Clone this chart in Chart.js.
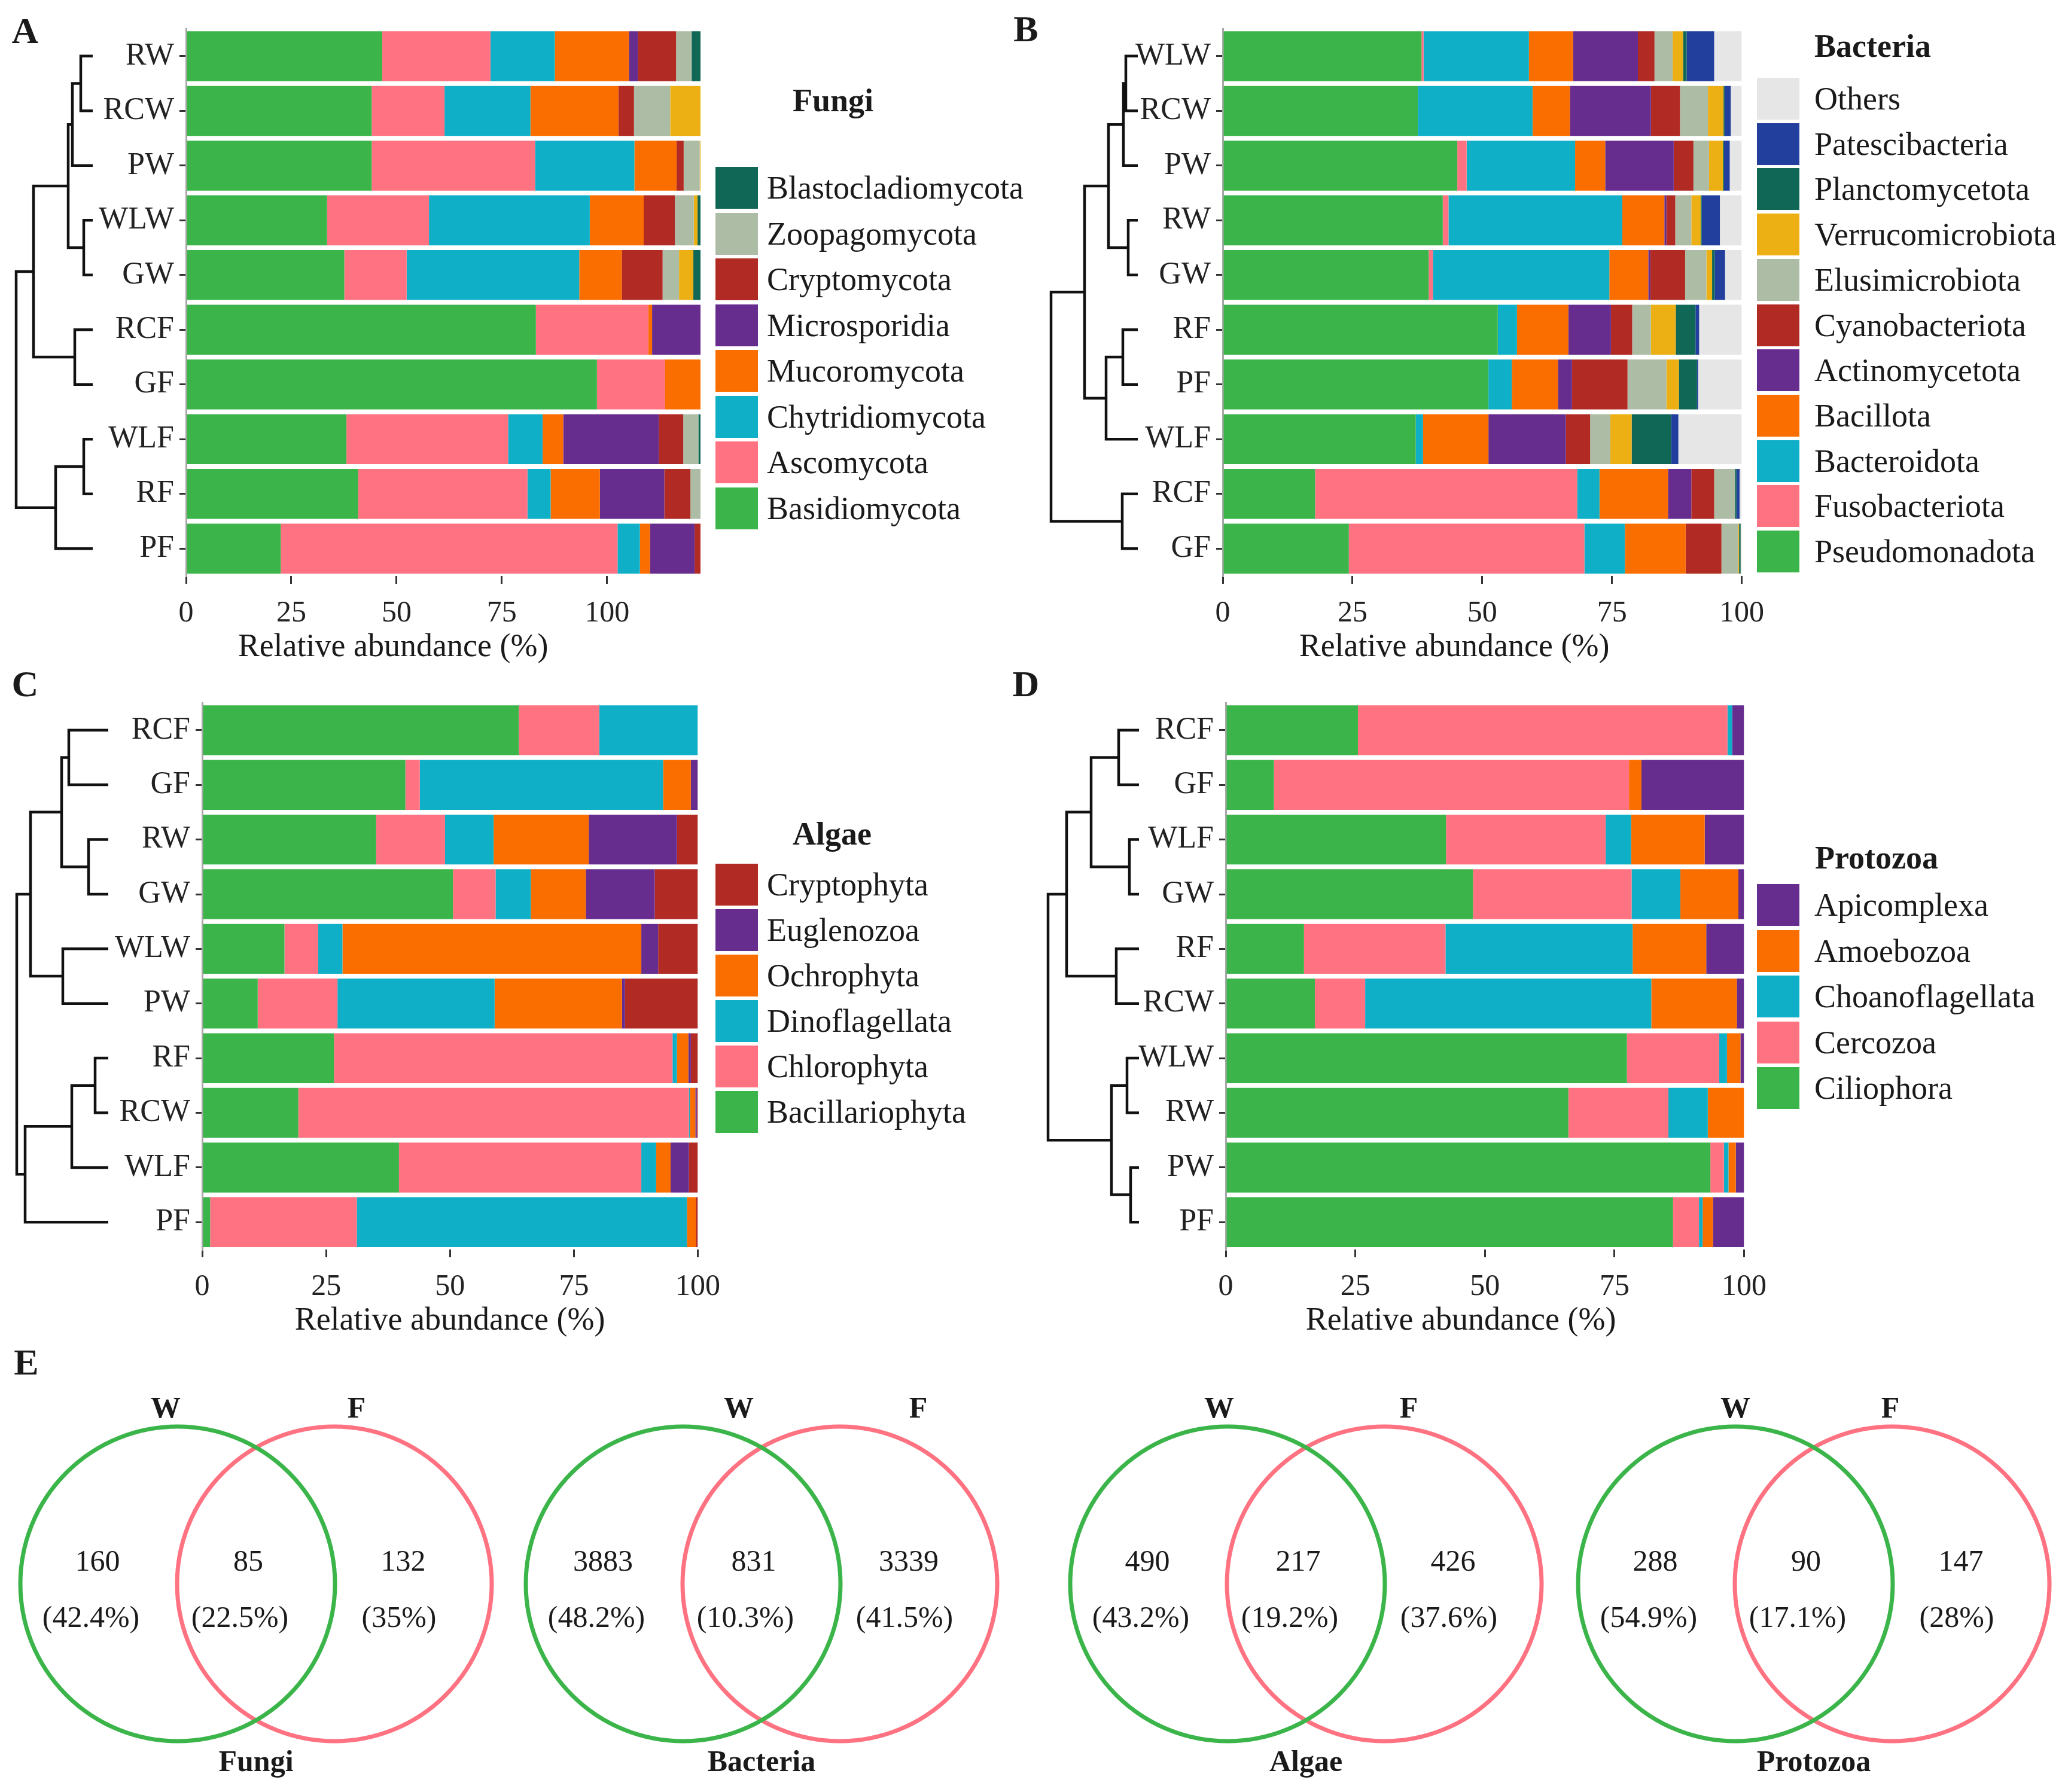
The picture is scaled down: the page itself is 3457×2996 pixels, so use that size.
<!DOCTYPE html>
<html>
<head>
<meta charset="utf-8">
<script src="https://cdn.jsdelivr.net/npm/chart.js@4.4.1/dist/chart.umd.min.js"></script>
<style>
  body { margin: 0; background: #fff; }
  #page { position: relative; width: 3457px; height: 2996px; overflow: hidden;
          font-family: "Liberation Serif", "Times New Roman", serif; color: #1a1a1a; }
  #page canvas { position: absolute; }
  .txt { position: absolute; line-height: 1; white-space: nowrap; }
</style>
</head>
<body>
<div id="page"></div>
<script>
// ---------- data ----------
const fungiCats = ["RW", "RCW", "PW", "WLW", "GW", "RCF", "GF", "WLF", "RF", "PF"];
const fungiNames = ["Basidiomycota", "Ascomycota", "Chytridiomycota", "Mucoromycota",
  "Microsporidia", "Cryptomycota", "Zoopagomycota", "", "Blastocladiomycota"];
const fungiBasidio = [46.6, 44.1, 44.1, 33.5, 37.6, 83.1, 97.6, 38.1, 40.9, 22.5];
const fungiAsco = [25.7, 17.3, 38.8, 24.2, 14.8, 26.7, 16.2, 38.4, 40.2, 80.0];
const fungiChytrid = [15.3, 20.4, 23.6, 38.2, 41.0, 0, 0, 8.2, 5.5, 5.3];
const fungiMucoro = [17.6, 20.9, 10.0, 12.8, 10.1, 0.9, 8.4, 4.9, 11.7, 2.4];
const fungiMicro = [2.1, 0, 0, 0, 0, 11.5, 0, 22.7, 15.3, 10.6];
const fungiCrypto = [9.1, 3.7, 1.7, 7.4, 9.7, 0, 0, 5.8, 6.2, 1.4];
const fungiZoopago = [3.7, 8.6, 3.8, 4.5, 3.9, 0, 0, 3.6, 2.4, 0];
const fungiUnnamed = [0, 7.2, 0.2, 0.9, 3.4, 0, 0, 0, 0, 0];
const fungiBlasto = [2.1, 0, 0, 0.7, 1.7, 0, 0, 0.5, 0, 0];

const bactCats = ["WLW", "RCW", "PW", "RW", "GW", "RF", "PF", "WLF", "RCF", "GF"];
const bactNames = ["Pseudomonadota", "Fusobacteriota", "Bacteroidota", "Bacillota",
  "Actinomycetota", "Cyanobacteriota", "Elusimicrobiota", "Verrucomicrobiota",
  "Planctomycetota", "Patescibacteria", "Others"];
const bactPseudo = [38.3, 37.6, 45.2, 42.4, 39.7, 53.0, 51.2, 37.2, 17.8, 24.3];
const bactFuso = [0.4, 0, 1.8, 1.1, 0.8, 0, 0, 0, 50.5, 45.4];
const bactBactero = [20.3, 22.1, 20.9, 33.5, 34.0, 3.7, 4.5, 1.4, 4.3, 7.8];
const bactBacillota = [8.5, 7.2, 5.8, 8.1, 7.5, 9.9, 8.9, 12.6, 13.2, 11.7];
const bactActino = [12.5, 15.6, 13.2, 0.4, 0.4, 8.2, 2.7, 14.9, 4.5, 0];
const bactCyano = [3.2, 5.6, 3.8, 1.7, 6.7, 4.1, 10.7, 4.7, 4.4, 6.9];
const bactElusi = [3.5, 5.4, 3.0, 3.1, 4.1, 3.6, 7.5, 3.9, 4.0, 3.2];
const bactVerruco = [2.0, 3.0, 2.7, 1.8, 1.1, 4.8, 2.4, 4.1, 0, 0.2];
const bactPlancto = [0.7, 0.2, 0.2, 0.2, 0.5, 3.8, 3.5, 7.6, 0.3, 0.3];
const bactPatesci = [5.3, 1.2, 1.1, 3.5, 2.0, 0.7, 0.2, 1.4, 0.6, 0];
const bactOthers = [5.3, 2.1, 2.3, 4.2, 3.2, 8.2, 8.4, 12.2, 0.4, 0.2];

const algaeCats = ["RCF", "GF", "RW", "GW", "WLW", "PW", "RF", "RCW", "WLF", "PF"];
const algaeNames = ["Bacillariophyta", "Chlorophyta", "Dinoflagellata", "Ochrophyta",
  "Euglenozoa", "Cryptophyta"];
const algaeBacill = [63.9, 41.0, 35.1, 50.6, 16.6, 11.2, 26.6, 19.4, 39.7, 1.6];
const algaeChloro = [16.2, 2.9, 13.9, 8.6, 6.8, 16.1, 68.3, 78.8, 48.9, 29.6];
const algaeDino = [19.9, 49.1, 9.8, 7.1, 4.9, 31.7, 0.9, 0.2, 3.0, 66.6];
const algaeOchro = [0, 5.6, 19.2, 11.1, 60.3, 25.7, 2.3, 1.1, 2.9, 1.8];
const algaeEugleno = [0, 1.4, 17.8, 13.9, 3.4, 0.6, 0.5, 0.3, 3.7, 0];
const algaeCrypto = [0, 0, 4.2, 8.7, 8.0, 14.7, 1.4, 0.2, 1.8, 0.4];

const protoCats = ["RCF", "GF", "WLF", "GW", "RF", "RCW", "WLW", "RW", "PW", "PF"];
const protoNames = ["Ciliophora", "Cercozoa", "Choanoflagellata", "Amoebozoa", "Apicomplexa"];
const protoCilio = [25.5, 9.3, 42.5, 47.7, 15.1, 17.2, 77.4, 66.1, 93.5, 86.3];
const protoCerco = [71.3, 68.5, 30.8, 30.6, 27.3, 9.7, 17.8, 19.3, 2.6, 5.0];
const protoChoano = [0.9, 0, 4.9, 9.4, 36.1, 55.2, 1.5, 7.6, 0.9, 0.7];
const protoAmoebo = [0, 2.4, 14.2, 11.2, 14.2, 16.5, 2.6, 7.0, 1.4, 2.0];
const protoApico = [2.3, 19.8, 7.6, 1.1, 7.3, 1.4, 0.7, 0, 1.6, 6.0];

// dendrogram merges (hclust style: negative = leaf, positive = earlier merge), height
const fungiMerges = [[-1, -2, 20], [1, -3, 34], [-4, -5, 15], [2, 3, 41], [-6, -7, 30],
  [4, 5, 99], [-8, -9, 15], [7, -10, 62], [6, 8, 128]];
const bactMerges = [[-1, -2, 20], [1, -3, 24], [-4, -5, 16], [2, 3, 49], [-6, -7, 25],
  [5, -8, 53], [4, 6, 89], [-9, -10, 26], [7, 8, 145]];
const algaeMerges = [[-1, -2, 66], [-3, -4, 33], [1, 2, 78], [-5, -6, 76], [3, 4, 130],
  [-7, -8, 22], [6, -9, 61], [7, -10, 139], [5, 8, 153]];
const protoMerges = [[-1, -2, 34], [-3, -4, 16], [1, 2, 80], [-5, -6, 38], [3, 4, 121],
  [-7, -8, 20], [-9, -10, 14], [6, 7, 46], [5, 8, 152]];

// venn counts
const vennGroups = ["Fungi", "Bacteria", "Algae", "Protozoa"];
const vennOnlyW = [160, 3883, 490, 288];
const vennShared = [85, 831, 217, 90];
const vennOnlyF = [132, 3339, 426, 147];

// ---------- styles / layout ----------
const SERIF = '"Liberation Serif", "Times New Roman", serif';
const col = { green: "#3bb54a", pink: "#ff7281", cyan: "#10afc8", orange: "#fa6e00",
  purple: "#662d8f", red: "#b12a24", sage: "#adbca4", gold: "#ecb014", teal: "#116756",
  blue: "#233f9e", light: "#e6e6e6" };
const base = [col.green, col.pink, col.cyan, col.orange, col.purple, col.red];

Chart.defaults.font.family = SERIF;
const page = document.getElementById("page");

function addCanvas(left, top, w, h) {
  const c = document.createElement("canvas");
  c.width = w; c.height = h;
  c.style.left = left + "px"; c.style.top = top + "px";
  c.style.width = w + "px"; c.style.height = h + "px";
  page.appendChild(c);
  return c;
}

function addText(txt, x, y, size, bold, align) {
  const d = document.createElement("div");
  d.className = "txt";
  d.textContent = txt;
  d.style.left = x + "px"; d.style.top = y + "px";
  d.style.fontSize = size + "px";
  if (bold) d.style.fontWeight = "bold";
  d.style.transform = align === "left" ? "translateY(-50%)" : "translate(-50%,-50%)";
  page.appendChild(d);
  return d;
}

function barPanel(p) {
  const yW = 170, padT = 40, padR = 50, xH = 100;
  const w = yW + (p.right - p.left) + padR;
  const h = padT + (p.bottom - p.top) + xH;
  const cv = addCanvas(p.left - yW, p.top - padT, w, h);
  return new Chart(cv, {
    type: "bar",
    data: {
      labels: p.cats,
      datasets: p.names.map((n, i) => ({
        label: n, data: p.values[i], backgroundColor: p.colors[i],
        borderWidth: 0, barPercentage: 0.913, categoryPercentage: 1
      }))
    },
    options: {
      indexAxis: "y", responsive: false, animation: false, events: [],
      layout: { padding: { top: padT, right: padR, left: 0, bottom: 0 } },
      plugins: { legend: { display: false }, tooltip: { enabled: false } },
      scales: {
        x: {
          type: "linear", stacked: true, min: 0, max: p.xmax,
          afterFit(s) { s.height = xH; },
          border: { display: false },
          grid: { drawOnChartArea: false, tickLength: 13, color: "#333", lineWidth: 3 },
          ticks: { stepSize: 25, includeBounds: false, padding: 20, color: "#222",
                   font: { size: 50 } }
        },
        y: {
          stacked: true,
          afterFit(s) { s.width = yW; },
          border: { display: true, color: "#a8a8a8", width: 3 },
          grid: { drawOnChartArea: false, offset: false, tickLength: 11, color: "#333", lineWidth: 3 },
          ticks: { padding: 9, autoSkip: false, color: "#222", font: { size: 52 } }
        }
      }
    }
  });
}

function dendroPanel(leafX, top, bottom, merges, n) {
  const pos = [];
  const node = r => (r < 0 ? { y: -r - 1, h: 0 } : pos[r - 1]);
  const sets = merges.map(([a, b, h]) => {
    const A = node(a), B = node(b);
    pos.push({ y: (A.y + B.y) / 2, h: h });
    return {
      data: [{ x: A.h, y: A.y }, { x: h, y: A.y }, { x: h, y: B.y }, { x: B.h, y: B.y }],
      borderColor: "#111", borderWidth: 4.5, pointRadius: 0, tension: 0,
      fill: false, clip: false, borderJoinStyle: "miter"
    };
  });
  const hmax = Math.max(...merges.map(m => m[2]));
  const pad = 4;
  const cv = addCanvas(leafX - hmax - pad, top, hmax + 2 * pad, bottom - top);
  new Chart(cv, {
    type: "line",
    data: { datasets: sets },
    options: {
      responsive: false, animation: false, events: [],
      layout: { padding: 0, autoPadding: false },
      plugins: { legend: { display: false }, tooltip: { enabled: false } },
      scales: {
        x: { type: "linear", min: -pad, max: hmax + pad, reverse: true, display: false },
        y: { type: "linear", min: -0.5, max: n - 0.5, reverse: true, display: false }
      }
    }
  });
}

function htmlLegend(chart, boxX, textX, cy0, pitch, title, titleX, titleY) {
  addText(title, titleX, titleY, 54, true, "left");
  chart.data.datasets.filter(d => d.label).reverse().forEach((d, i) => {
    const cy = cy0 + i * pitch;
    const sq = document.createElement("div");
    sq.style.cssText = "position:absolute;left:" + boxX + "px;top:" + (cy - 35) +
      "px;width:71px;height:70px;background:" + d.backgroundColor;
    page.appendChild(sq);
    addText(d.label, textX, cy, 54, false, "left");
  });
}

// ---------- panels ----------
const chartA = barPanel({
  cats: fungiCats, names: fungiNames,
  values: [fungiBasidio, fungiAsco, fungiChytrid, fungiMucoro, fungiMicro, fungiCrypto,
           fungiZoopago, fungiUnnamed, fungiBlasto],
  colors: [...base, col.sage, col.gold, col.teal],
  left: 311, right: 1171, top: 48, bottom: 963, xmax: 122.2
});
const chartB = barPanel({
  cats: bactCats, names: bactNames,
  values: [bactPseudo, bactFuso, bactBactero, bactBacillota, bactActino, bactCyano,
           bactElusi, bactVerruco, bactPlancto, bactPatesci, bactOthers],
  colors: [...base, col.sage, col.gold, col.teal, col.blue, col.light],
  left: 2044, right: 2919, top: 48, bottom: 963, xmax: 100
});
const chartC = barPanel({
  cats: algaeCats, names: algaeNames,
  values: [algaeBacill, algaeChloro, algaeDino, algaeOchro, algaeEugleno, algaeCrypto],
  colors: base,
  left: 338, right: 1174, top: 1175, bottom: 2089, xmax: 100
});
const chartD = barPanel({
  cats: protoCats, names: protoNames,
  values: [protoCilio, protoCerco, protoChoano, protoAmoebo, protoApico],
  colors: base.slice(0, 5),
  left: 2049, right: 2923, top: 1175, bottom: 2089, xmax: 100
});

dendroPanel(155, 48, 963, fungiMerges, fungiCats.length);
dendroPanel(1902, 48, 963, bactMerges, bactCats.length);
dendroPanel(181, 1175, 2089, algaeMerges, algaeCats.length);
dendroPanel(1904, 1175, 2089, protoMerges, protoCats.length);

htmlLegend(chartA, 1196, 1282, 314, 76.5, "Fungi", 1325, 168);
htmlLegend(chartB, 2937, 3033, 165, 75.7, "Bacteria", 3033, 77);
htmlLegend(chartC, 1196, 1282, 1479, 76, "Algae", 1325, 1394);
htmlLegend(chartD, 2937, 3033, 1513, 76.5, "Protozoa", 3034, 1434);

const axisTitle = "Relative abundance (%)";
addText(axisTitle, 657, 1079, 54, false);
addText(axisTitle, 2431, 1079, 54, false);
addText(axisTitle, 752, 2205, 54, false);
addText(axisTitle, 2442, 2205, 54, false);

addText("A", 42, 51, 62, true);
addText("B", 1715, 48, 62, true);
addText("C", 42, 1143, 62, true);
addText("D", 1715, 1143, 62, true);
addText("E", 44, 2277, 62, true);

// ---------- venn (panel E) ----------
const vennTop = 2240, vennCy = 408, vennR = 263;
const vennCx = [[297, 559], [1142, 1404], [2052, 2314], [2901, 3163]];
const vennSetX = [[277, 596], [1235, 1535], [2038, 2355], [2901, 3160]];
const vennCv = addCanvas(0, vennTop, 3457, 756);
const circleSet = (idx, color) => ({
  data: vennCx.map(c => ({ x: c[idx], y: vennCy })),
  showLine: false, clip: false,
  pointRadius: vennR, pointBorderWidth: 7, pointBorderColor: color,
  pointBackgroundColor: "rgba(0,0,0,0)"
});
new Chart(vennCv, {
  type: "scatter",
  data: { datasets: [circleSet(0, col.green), circleSet(1, col.pink)] },
  options: {
    responsive: false, animation: false, events: [],
    layout: { padding: 0, autoPadding: false },
    plugins: { legend: { display: false }, tooltip: { enabled: false } },
    scales: {
      x: { type: "linear", min: 0, max: 3457, display: false },
      y: { type: "linear", min: 0, max: 756, reverse: true, display: false }
    }
  }
});

const pct = (v, t) => "(" + Number((v / t * 100).toFixed(1)) + "%)";
vennGroups.forEach((g, i) => {
  const [cw, cf] = vennCx[i];
  const mid = (cw + cf) / 2;
  const total = vennOnlyW[i] + vennShared[i] + vennOnlyF[i];
  addText(String(vennOnlyW[i]), cw - 134, 2609, 50, false);
  addText(String(vennShared[i]), mid - 13, 2609, 50, false);
  addText(String(vennOnlyF[i]), cf + 115, 2609, 50, false);
  addText(pct(vennOnlyW[i], total), cw - 145, 2703, 50, false);
  addText(pct(vennShared[i], total), mid - 27, 2703, 50, false);
  addText(pct(vennOnlyF[i], total), cf + 108, 2703, 50, false);
  addText("W", vennSetX[i][0], 2353, 50, true);
  addText("F", vennSetX[i][1], 2353, 50, true);
  addText(g, mid, 2944, 50, true);
});
</script>
</body>
</html>
